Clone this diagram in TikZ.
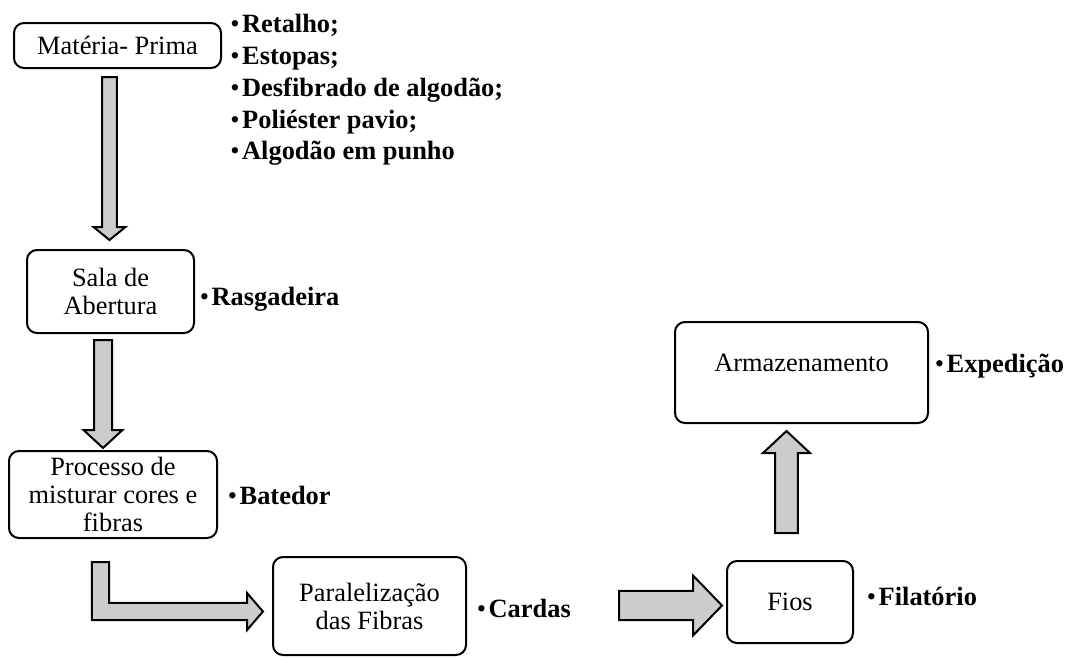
\documentclass[tikz,border=0pt]{standalone}
\usepackage{fontspec}
\setmainfont{Liberation Serif}
\usetikzlibrary{calc}

\begin{document}
\begin{tikzpicture}[x=0.75pt, y=-0.75pt,
		box/.style={draw, line width=1.5pt, rounded corners=7.5pt, inner sep=0pt, align=center, font=\fontsize{19.8}{21}\selectfont},
		item/.style={anchor=base west, inner sep=0pt, font=\fontsize{19.8}{21}\selectfont},
		blockarrow/.style n args={3}{draw, line width=1.5pt, fill=gray!40, to path={let \p1=(\tikztostart), \p2=(\tikztotarget), \n1={veclen(\x2-\x1,\y2-\y1)}, \n2={(\x2-\x1)/\n1}, \n3={(\y2-\y1)/\n1}, \p3=({\x2-(\n2)*#3},{\y2-(\n3)*#3}) in ({\x1-(\n3)*#1},{\y1+(\n2)*#1}) -- ({\x3-(\n3)*#1},{\y3+(\n2)*#1}) -- ({\x3-(\n3)*#2},{\y3+(\n2)*#2}) -- (\p2) -- ({\x3+(\n3)*#2},{\y3-(\n2)*#2}) -- ({\x3+(\n3)*#1},{\y3-(\n2)*#1}) -- ({\x1+(\n3)*#1},{\y1-(\n2)*#1}) -- cycle}},
		bentarrow/.style n args={3}{draw, line width=1.5pt, fill=gray!40, to path={let \p1=(\tikztostart), \p2=(\tikztotarget) in ({\x1-#1},\y1) -- ({\x1-#1},{\y2-#1}) -- ({\x2-#3},{\y2-#1}) -- ({\x2-#3},{\y2-#2}) -- (\p2) -- ({\x2-#3},{\y2+#2}) -- ({\x2-#3},{\y2+#1}) -- ({\x1+#1},{\y2+#1}) -- ({\x1+#1},\y1) -- cycle}}]
	\useasboundingbox (0,0) rectangle (1066,657);
	% caixas
	\node[box, minimum width=155.25pt, minimum height=33.75pt] (B_0) at (117.5,45.5) {Matéria- Prima};
	\node[box, minimum width=125.25pt, minimum height=62.25pt] (B_1) at (110.5,291.5) {Sala de\\Abertura};
	\node[box, minimum width=156pt, minimum height=65.25pt] (B_2) at (113,494.5) {Processo de\\misturar cores e\\fibras};
	\node[box, minimum width=144.75pt, minimum height=73.5pt] (B_3) at (369.5,606) {Paralelização\\das Fibras};
	\node[box, minimum width=94.5pt, minimum height=61.5pt] (B_4) at (790,602) {Fios};
	\node[box, minimum width=189.75pt, minimum height=75.75pt, text depth=13.9pt] (B_5) at (801.5,372.5) {Armazenamento};
	% listas
	\node[item] (T_0_0) at (230,32) {\textbullet\hspace{2pt}\textbf{Retalho;}};
	\node[item] (T_0_1) at (230,64) {\textbullet\hspace{2pt}\textbf{Estopas;}};
	\node[item] (T_0_2) at (230,96.5) {\textbullet\hspace{2pt}\textbf{Desfibrado de algodão;}};
	\node[item] (T_0_3) at (230,128) {\textbullet\hspace{2pt}\textbf{Poliéster pavio;}};
	\node[item] (T_0_4) at (230,159.5) {\textbullet\hspace{2pt}\textbf{Algodão em punho}};
	\node[item] (T_1_0) at (199.5,305) {\textbullet\hspace{2pt}\textbf{Rasgadeira}};
	\node[item] (T_2_0) at (227.5,504) {\textbullet\hspace{2pt}\textbf{Batedor}};
	\node[item] (T_3_0) at (476.5,617) {\textbullet\hspace{2pt}\textbf{Cardas}};
	\node[item] (T_4_0) at (866.5,605) {\textbullet\hspace{2pt}\textbf{Filatório}};
	\node[item] (T_5_0) at (934.5,372) {\textbullet\hspace{2pt}\textbf{Expedição}};
	% setas
	\coordinate (A_0_s) at (109.5,77);
	\coordinate (A_0_e) at (109.5,240);
	\draw[blockarrow={5.6pt}{12pt}{9.75pt}] (A_0_s) to (A_0_e);
	\coordinate (A_1_s) at (103,340);
	\coordinate (A_1_e) at (103,448);
	\draw[blockarrow={6.75pt}{14.6pt}{13.5pt}] (A_1_s) to (A_1_e);
	\coordinate (A_2_s) at (100.5,562);
	\coordinate (A_2_e) at (263,611.5);
	\draw[bentarrow={6.4pt}{13.9pt}{12pt}] (A_2_s) to (A_2_e);
	\coordinate (A_3_s) at (619,605.5);
	\coordinate (A_3_e) at (722,605.5);
	\draw[blockarrow={10.9pt}{22.5pt}{21.75pt}] (A_3_s) to (A_3_e);
	\coordinate (A_4_s) at (786.5,533);
	\coordinate (A_4_e) at (786.5,431);
	\draw[blockarrow={8.6pt}{17.6pt}{16.5pt}] (A_4_s) to (A_4_e);
\end{tikzpicture}
\end{document}
